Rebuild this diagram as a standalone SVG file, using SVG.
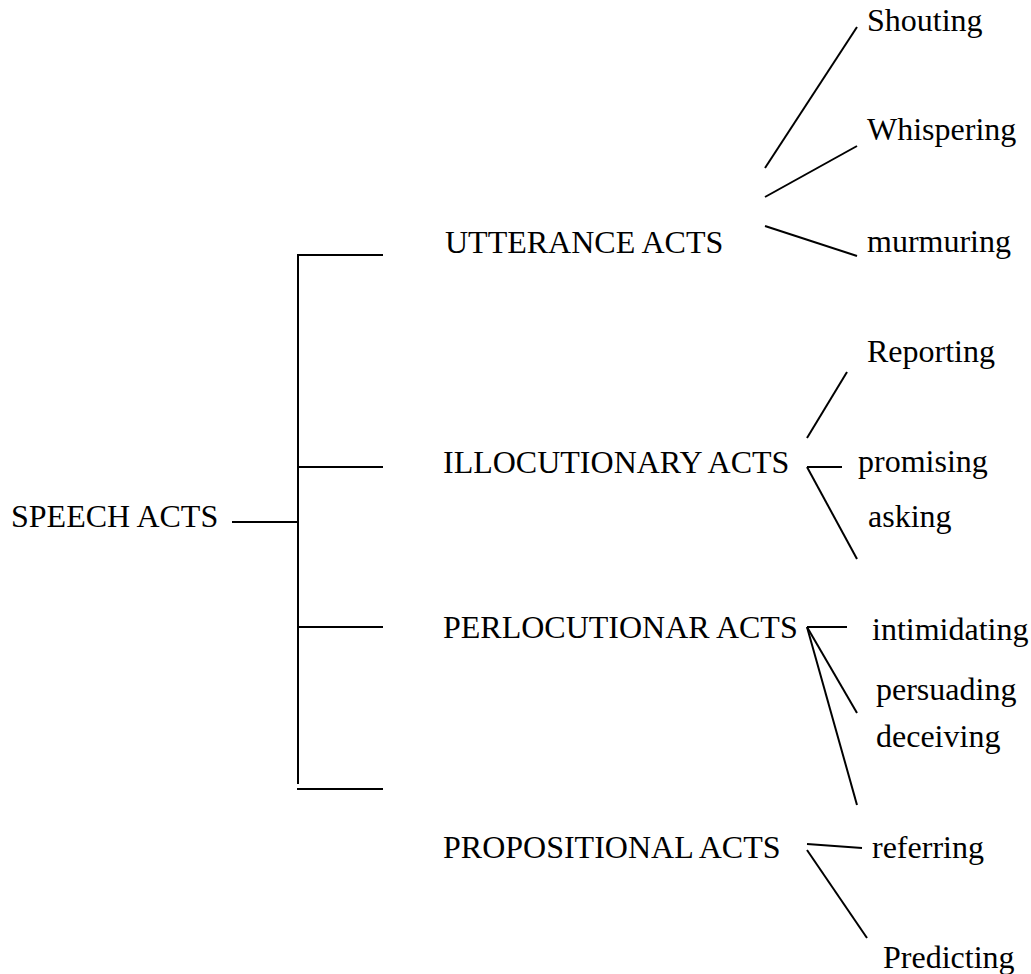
<svg xmlns="http://www.w3.org/2000/svg" width="1031" height="974" viewBox="0 0 1031 974">
<style>
text{font-family:"Liberation Serif","Times New Roman",serif;font-size:32px;fill:#000}
line{stroke:#000;stroke-width:2;fill:none}
</style>
<rect width="1031" height="974" fill="#fff"/>
<g id="connectors">
<line x1="232" y1="522" x2="298" y2="522"/>
<line x1="298" y1="254" x2="298" y2="784"/>
<line x1="297" y1="255" x2="383" y2="255"/>
<line x1="297" y1="467" x2="383" y2="467"/>
<line x1="297" y1="627" x2="383" y2="627"/>
<line x1="297" y1="789" x2="383" y2="789"/>
<line x1="765" y1="168" x2="857" y2="27"/>
<line x1="765" y1="197" x2="857" y2="146"/>
<line x1="765" y1="226" x2="857" y2="256"/>
<line x1="807" y1="438" x2="847" y2="372"/>
<line x1="807" y1="467" x2="842" y2="467"/>
<line x1="807" y1="467" x2="857" y2="559"/>
<line x1="807" y1="627" x2="847" y2="627"/>
<line x1="807" y1="627" x2="857" y2="713"/>
<line x1="807" y1="627" x2="857" y2="805"/>
<line x1="807" y1="844" x2="862" y2="848"/>
<line x1="807" y1="850" x2="867" y2="938"/>
</g>
<g id="speech-acts"><text x="11" y="527">SPEECH ACTS</text></g>
<g id="utterance-acts"><text x="445" y="253">UTTERANCE ACTS</text></g>
<g id="illocutionary-acts"><text x="443" y="473">ILLOCUTIONARY ACTS</text></g>
<g id="perlocutionar-acts"><text x="443" y="638">PERLOCUTIONAR ACTS</text></g>
<g id="propositional-acts"><text x="443" y="858">PROPOSITIONAL ACTS</text></g>
<g id="shouting"><text x="867" y="31">Shouting</text></g>
<g id="whispering"><text x="867" y="140">Whispering</text></g>
<g id="murmuring"><text x="867" y="252">murmuring</text></g>
<g id="reporting"><text x="867" y="362">Reporting</text></g>
<g id="promising"><text x="858" y="472">promising</text></g>
<g id="asking"><text x="868" y="527">asking</text></g>
<g id="intimidating"><text x="872" y="640">intimidating</text></g>
<g id="persuading"><text x="876" y="700">persuading</text></g>
<g id="deceiving"><text x="876" y="747">deceiving</text></g>
<g id="referring"><text x="872" y="858">referring</text></g>
<g id="predicting"><text x="883" y="968">Predicting</text></g>
</svg>
